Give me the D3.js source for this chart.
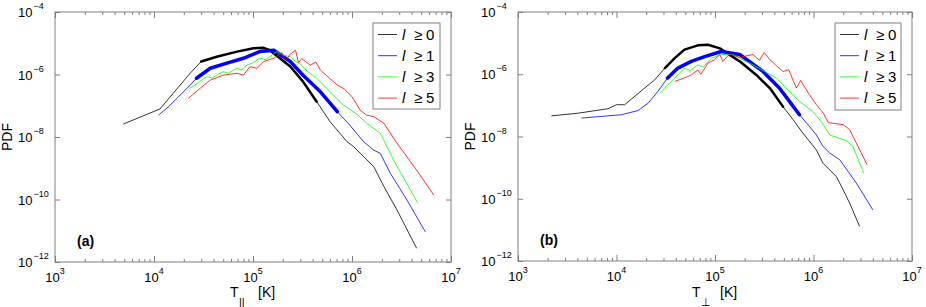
<!DOCTYPE html>
<html>
<head>
<meta charset="utf-8">
<script src="https://cdn.jsdelivr.net/npm/d3@7"></script>
<style>
  body { margin: 0; background: #fff; }
  svg { display: block; }
  text { font-family: "Liberation Sans", Arial, Helvetica, sans-serif; fill: #000; }
</style>
</head>
<body>
<svg id="canvas" width="926" height="307"></svg>
<script>
// axis ranges and tick labels
var xDomain = [1e3, 1e7];
var yDomain = [1e-12, 1e-4];
var xTicks = [1e3, 1e4, 1e5, 1e6, 1e7];
var yTicks = [1e-4, 1e-6, 1e-8, 1e-10, 1e-12];
var legendLevels = ["0", "1", "3", "5"];
var seriesColors = ["#000000", "#0000ff", "#00ff00", "#ff0000"];
var panelLabels = ["(a)", "(b)"];
var xSubscripts = ["||", "\u22a5"];

// ---- panel (a): PDF of T_par, [T (K), PDF] ----
var parL0 = [[4.9e3,2.6e-8],[1.15e4,7.9e-8],[1.51e4,2.2e-7],[1.84e4,4.6e-7],[2.32e4,1.1e-6],[3.0e4,2.6e-6],
  [4.3e4,3.7e-6],[6.9e4,5.4e-6],[1.01e5,6.9e-6],[1.26e5,7.2e-6],[1.48e5,6.0e-6],[2.38e5,1.8e-6],[3.2e5,5.9e-7],
  [4.4e5,1.35e-7],[6.0e5,3.1e-8],[8.9e5,7.1e-9],[1.04e6,4.9e-9],[1.66e6,1.12e-9],[2.1e6,2.6e-10],[2.85e6,4.6e-11],[4.5e6,2.75e-12]];
var parL1 = [[1.11e4,5.0e-8],[1.40e4,9.3e-8],[1.77e4,1.95e-7],[2.32e4,4.6e-7],[2.69e4,7.6e-7],[3.7e4,1.58e-6],
  [5.45e4,2.3e-6],[8.0e4,3.3e-6],[1.17e5,5.4e-6],[1.62e5,6.0e-6],[2.38e5,2.6e-6],[3.2e5,9.5e-7],[4.8e5,2.8e-7],
  [7.1e5,6.5e-8],[9.5e5,2.4e-8],[1.31e6,7.1e-9],[1.66e6,3.8e-9],[1.93e6,3.0e-9],[2.44e6,6.9e-10],[3.6e6,9.5e-11],[5.5e6,9.3e-12]];
var parL3 = [[2.29e4,3.55e-7],[2.8e4,5.5e-7],[3.4e4,8.5e-7],[3.9e4,7.8e-7],[4.4e4,1.0e-6],[5.0e4,1.23e-6],[5.6e4,1.1e-6],
  [6.9e4,1.58e-6],[7.6e4,1.4e-6],[8.7e4,2.0e-6],[1.0e5,2.4e-6],[1.17e5,3.3e-6],[1.35e5,3.0e-6],[1.74e5,5.4e-6],
  [2.0e5,4.2e-6],[2.38e5,3.7e-6],[2.7e5,2.6e-6],[3.0e5,2.2e-6],[3.5e5,1.3e-6],[4.4e5,7.6e-7],[6.0e5,2.8e-7],
  [8.2e5,1.05e-7],[1.12e6,5.4e-8],[1.41e6,2.75e-8],[1.93e6,1.32e-8],[2.63e6,1.82e-9],[4.6e6,7.9e-11]];
var parL5 = [[2.23e4,1.74e-7],[2.92e4,3.6e-7],[3.7e4,6.6e-7],[5.0e4,9.5e-7],[6.9e4,1.1e-6],[8.0e4,9.5e-7],[9.3e4,1.78e-6],
  [1.10e5,1.58e-6],[1.28e5,2.6e-6],[1.62e5,3.3e-6],[1.95e5,5.0e-6],[2.14e5,2.8e-6],[2.38e5,4.5e-6],[2.69e5,6.0e-6],
  [2.88e5,2.4e-6],[3.1e5,3.2e-6],[3.8e5,2.0e-6],[4.3e5,2.5e-6],[4.8e5,1.38e-6],[5.6e5,8.9e-7],[7.1e5,4.6e-7],
  [8.3e5,3.5e-7],[1.0e6,1.95e-7],[1.21e6,7.2e-8],[1.41e6,5.0e-8],[1.66e6,4.5e-8],[2.1e6,2.75e-8],[2.85e6,6.3e-9],
  [4.5e6,8.7e-10],[6.7e6,1.38e-10]];

// ---- panel (b): PDF of T_perp, [T (K), PDF] ----
var perpL0 = [[2.18e3,4.6e-8],[4.06e3,5.6e-8],[8.2e3,7.8e-8],[1.0e4,1.05e-7],[1.21e4,1.05e-7],[1.53e4,1.95e-7],
  [1.93e4,3.6e-7],[2.44e4,6.6e-7],[3.1e4,1.58e-6],[3.9e4,3.3e-6],[4.9e4,6.2e-6],[6.7e4,8.5e-6],[8.5e4,8.9e-6],
  [1.12e5,6.8e-6],[1.78e5,2.6e-6],[2.63e5,9.5e-7],[3.6e5,3.6e-7],[4.9e5,9.1e-8],[6.2e5,3.5e-8],[7.8e5,1.29e-8],
  [1.07e6,3.7e-9],[1.25e6,1.38e-9],[1.71e6,5.1e-10],[2.0e6,1.95e-10],[2.33e6,7.2e-11],[2.94e6,1.29e-11]];
var perpL1 = [[4.4e3,3.9e-8],[1.12e4,5.0e-8],[1.65e4,6.8e-8],[2.09e4,1.17e-7],[2.63e4,2.8e-7],[3.3e4,7.6e-7],
  [4.2e4,1.58e-6],[5.75e4,2.6e-6],[7.85e4,3.7e-6],[1.16e5,5.4e-6],[1.78e5,4.3e-6],[3.07e5,1.23e-6],[4.5e5,3.6e-7],
  [5.7e5,1.35e-7],[7.2e5,5.0e-8],[9.1e5,2.1e-8],[1.07e6,1.12e-8],[1.25e6,4.8e-9],[1.46e6,2.95e-9],[1.85e6,1.78e-9],
  [2.72e6,3.2e-10],[4.0e6,4.4e-11]];
var perpL3 = [[2.75e4,2.5e-7],[3.6e4,5.9e-7],[4.2e4,9.5e-7],[4.9e4,1.58e-6],[5.6e4,1.3e-6],[6.7e4,2.0e-6],[7.6e4,1.7e-6],
  [9.2e4,3.3e-6],[1.16e5,4.3e-6],[1.52e5,4.3e-6],[2.43e5,2.0e-6],[4.2e5,7.6e-7],[5.7e5,2.8e-7],[7.2e5,1.35e-7],
  [9.9e5,6.3e-8],[1.25e6,2.5e-8],[1.46e6,1.12e-8],[2.16e6,7.4e-9],[2.51e6,4.8e-9],[3.24e6,6.6e-10]];
var perpL5 = [[3.9e4,5.9e-7],[4.9e4,7.6e-7],[5.75e4,9.5e-7],[6.7e4,1.38e-6],[7.2e4,1.0e-6],[8.5e4,2.3e-6],[9.9e4,2.95e-6],
  [1.12e5,4.3e-6],[1.2e5,2.6e-6],[1.41e5,4.5e-6],[1.78e5,3.5e-6],[2.43e5,4.3e-6],[2.82e5,2.8e-6],[3.16e5,5.0e-6],
  [3.6e5,2.95e-6],[4.2e5,1.9e-6],[4.9e5,1.23e-6],[5.6e5,1.4e-6],[6.7e5,3.6e-7],[7.4e5,6.3e-7],[9.1e5,2.2e-7],
  [1.07e6,1.05e-7],[1.26e6,5.6e-8],[1.41e6,2.8e-8],[2.0e6,2.4e-8],[2.33e6,1.66e-8],[2.72e6,6.2e-9],[3.5e6,1.23e-9]];

// layout: noisy stretches of the dense curves get drawn thicker
var panels = [
  { left: 55, top: 12, w: 396, h: 250, series: [parL0, parL1, parL3, parL5], legend: { x: 373, y: 23, w: 67, h: 86 },
    thick: [[3.0e4, 4.4e5, 2.5], [2.5e4, 7.1e5, 3.5], null, null] },
  { left: 518, top: 12, w: 394, h: 249, series: [perpL0, perpL1, perpL3, perpL5], legend: { x: 835, y: 23, w: 66, h: 87 },
    thick: [[2.5e4, 4.9e5, 2.5], [2.7e4, 7.2e5, 3.5], null, null] }
];

var axisColor = "#808080";
var svg = d3.select('#canvas');
svg.append('rect').attr('width', 926).attr('height', 307).attr('fill', '#fff');

function expOf(v){ return Math.round(Math.log10(v)); }
function isMajor(v){ var e = Math.log10(v); return Math.abs(e - Math.round(e)) < 1e-6; }

panels.forEach(function(p, pi){
  var g = svg.append('g').attr('transform', 'translate(' + p.left + ',' + p.top + ')');
  var x = d3.scaleLog().domain(xDomain).range([0, p.w]);
  var y = d3.scaleLog().domain(yDomain).range([p.h, 0]);
  var minor = x.ticks().filter(function(v){ return !isMajor(v); });

  var line = d3.line().x(function(d){ return x(d[0]); }).y(function(d){ return y(d[1]); });

  // curves
  p.series.forEach(function(s, si){
    g.append('path').attr('d', line(s)).attr('fill', 'none')
      .attr('stroke', seriesColors[si]).attr('stroke-width', 0.8).attr('stroke-linejoin', 'round');
    var t = p.thick[si];
    if (t) {
      var seg = s.filter(function(d){ return d[0] >= t[0] && d[0] <= t[1]; });
      g.append('path').attr('d', line(seg)).attr('fill', 'none')
        .attr('stroke', seriesColors[si]).attr('stroke-width', t[2])
        .attr('stroke-linejoin', 'round').attr('stroke-linecap', 'round');
    }
  });

  // ticks, inward on all four sides
  function styleTicks(sel){ sel.select('.domain').remove(); sel.selectAll('line').attr('stroke', axisColor); }
  g.append('g').attr('transform', 'translate(0,' + p.h + ')')
    .call(d3.axisBottom(x).tickValues(minor).tickSize(-3).tickFormat('')).call(styleTicks);
  g.append('g').attr('transform', 'translate(0,' + p.h + ')')
    .call(d3.axisBottom(x).tickValues(xTicks).tickSize(-6).tickFormat('')).call(styleTicks);
  g.append('g').call(d3.axisTop(x).tickValues(minor).tickSize(-3).tickFormat('')).call(styleTicks);
  g.append('g').call(d3.axisTop(x).tickValues(xTicks).tickSize(-6).tickFormat('')).call(styleTicks);
  g.append('g').call(d3.axisLeft(y).tickValues(yTicks).tickSize(-5).tickFormat('')).call(styleTicks);
  g.append('g').attr('transform', 'translate(' + p.w + ',0)')
    .call(d3.axisRight(y).tickValues(yTicks).tickSize(-5).tickFormat('')).call(styleTicks);

  g.append('rect').attr('width', p.w).attr('height', p.h)
    .attr('fill', 'none').attr('stroke', axisColor).attr('stroke-width', 1);

  // tick labels 10^n
  xTicks.forEach(function(v){
    var t = g.append('text').attr('x', x(v)).attr('y', p.h + 20).attr('text-anchor', 'middle').attr('font-size', 13);
    t.append('tspan').text('10');
    t.append('tspan').attr('font-size', 9).attr('dy', -8).text(expOf(v));
  });
  yTicks.forEach(function(v){
    var t = g.append('text').attr('x', -37).attr('y', y(v) + 5).attr('font-size', 13);
    t.append('tspan').text('10');
    t.append('tspan').attr('font-size', 9).attr('dy', -8).attr('dx', 1).text('\u2212' + Math.abs(expOf(v)));
  });

  // axis titles
  svg.append('text').attr('transform', 'translate(' + (p.left - 43) + ',' + (p.top + p.h / 2) + ') rotate(-90)')
    .attr('text-anchor', 'middle').attr('font-size', 14).text('PDF');
  var cx = p.left + p.w / 2;
  var xt = svg.append('text').attr('font-size', 14);
  xt.append('tspan').attr('x', cx - 23).attr('y', 297).text('T');
  xt.append('tspan').attr('x', cx - 14).attr('y', 306).attr('font-size', 11).text(xSubscripts[pi]);
  xt.append('tspan').attr('x', cx + 5).attr('y', 297).text('[K]');

  // panel tag
  g.append('text').attr('x', 22).attr('y', p.h - 16).attr('font-size', 14).attr('font-weight', 'bold').text(panelLabels[pi]);

  // legend
  var L = p.legend;
  svg.append('rect').attr('x', L.x).attr('y', L.y).attr('width', L.w).attr('height', L.h)
    .attr('fill', '#fff').attr('stroke', axisColor).attr('stroke-width', 1);
  legendLevels.forEach(function(lv, i){
    var ry = L.y + 11.5 + i * 21.2;
    svg.append('line').attr('x1', L.x + 5).attr('x2', L.x + 24).attr('y1', ry).attr('y2', ry)
      .attr('stroke', seriesColors[i]).attr('stroke-width', 0.8);
    var t = svg.append('text').attr('y', ry + 5).attr('font-size', 15);
    t.append('tspan').attr('x', L.x + 29).attr('font-style', 'italic').text('l');
    t.append('tspan').attr('x', L.x + 41).text('\u2265');
    t.append('tspan').attr('x', L.x + 53).text(lv);
  });
});
</script>
</body>
</html>
